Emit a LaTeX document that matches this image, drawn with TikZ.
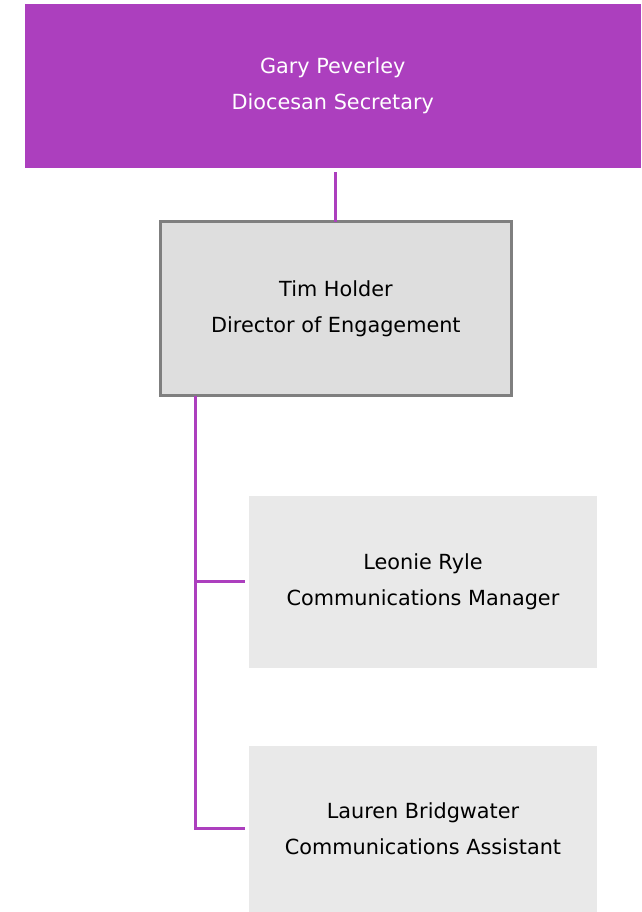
\documentclass[tikz,border=0pt]{standalone}
\usepackage{fontspec}
\setmainfont{DejaVu Sans}
\definecolor{purp}{RGB}{172,63,190}
\definecolor{midgray}{RGB}{222,222,222}
\definecolor{bordergray}{RGB}{127,127,127}
\definecolor{lightgray}{RGB}{233,233,233}
\tikzset{
  txt/.style={align=center, font=\fontsize{20.8}{36}\selectfont, inner sep=0pt, outer sep=0pt},
  topbox/.style={txt, fill=purp, text=white, minimum width=616.5pt, minimum height=164pt},
  midbox/.style={txt, fill=midgray, draw=bordergray, line width=3pt, minimum width=350.7pt, minimum height=174pt},
  childbox/.style={txt, fill=lightgray, minimum width=347.4pt, minimum height=172pt},
  conn/.style={draw=purp, line width=3pt}
}
\begin{document}
\begin{tikzpicture}[x=1pt, y=-1pt]
\useasboundingbox (0,0) rectangle (641,912);
\node[topbox] (top) at (332.75,86) {Gary Peverley\\Diocesan Secretary};
\node[midbox] (tim) at (335.9,308.5) {Tim Holder\\Director of Engagement};
\node[childbox] (leonie) at (423,581.7) {Leonie Ryle\\Communications Manager};
\node[childbox, minimum height=166.3pt] (lauren) at (423,828.85) {Lauren Bridgwater\\Communications Assistant};
\coordinate (trunk) at ([xshift=35pt]tim.south west);
\draw[conn, shorten >=4pt] (tim.north) -- (tim.north |- top.south);
\draw[conn, shorten >=4pt] (trunk) |- (leonie.west);
\draw[conn, shorten >=4pt] (trunk) |- (lauren.west);
\end{tikzpicture}
\end{document}
